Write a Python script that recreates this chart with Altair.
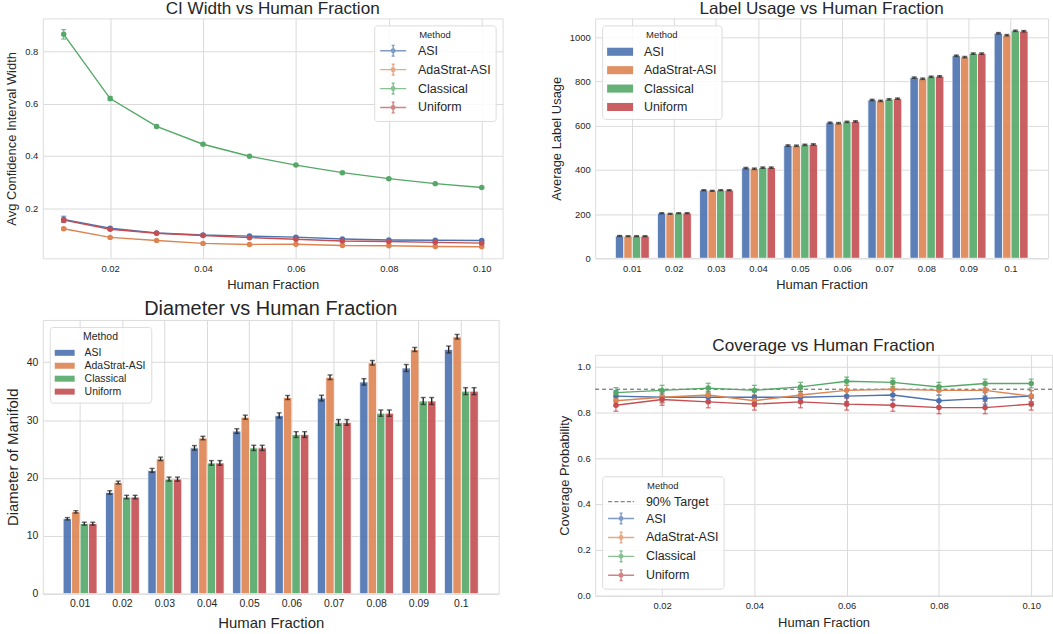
import altair as alt
import pandas as pd

# ---------------- data ----------------
fractions = [0.01, 0.02, 0.03, 0.04, 0.05, 0.06, 0.07, 0.08, 0.09, 0.10]
frac_labels = ["0.01", "0.02", "0.03", "0.04", "0.05", "0.06", "0.07", "0.08", "0.09", "0.1"]
methods = ["ASI", "AdaStrat-ASI", "Classical", "Uniform"]
colors = ["#4C72B0", "#DD8452", "#55A868", "#C44E52"]

# CI width
ci_asi = [0.157, 0.123, 0.105, 0.097, 0.093, 0.089, 0.082, 0.078, 0.077, 0.076]
ci_ada = [0.121, 0.088, 0.076, 0.065, 0.061, 0.062, 0.057, 0.056, 0.053, 0.052]
ci_cla = [0.866, 0.620, 0.513, 0.445, 0.399, 0.365, 0.336, 0.313, 0.294, 0.279]
ci_uni = [0.154, 0.119, 0.104, 0.095, 0.087, 0.081, 0.074, 0.072, 0.069, 0.066]
ci_err_asi = [0.012, 0.004, 0.003, 0.003, 0.003, 0.002, 0.002, 0.002, 0.002, 0.002]
ci_err_ada = [0.004, 0.003, 0.002, 0.002, 0.002, 0.002, 0.002, 0.002, 0.002, 0.002]
ci_err_cla = [0.018, 0.008, 0.005, 0.004, 0.004, 0.003, 0.003, 0.003, 0.003, 0.003]
ci_err_uni = [0.006, 0.004, 0.003, 0.003, 0.003, 0.002, 0.002, 0.002, 0.002, 0.002]

# Label usage
lu_asi = [101, 204, 308, 408, 510, 613, 716, 817, 916, 1018]
lu_ada = [100, 201, 305, 405, 509, 611, 712, 812, 910, 1009]
lu_cla = [100, 204, 308, 410, 513, 617, 719, 821, 926, 1029]
lu_uni = [100, 204, 308, 410, 515, 619, 722, 823, 926, 1027]
lu_err = [2, 2, 2, 3, 3, 3, 3, 3, 3, 3]

# Diameter
dm_asi = [12.95, 17.5, 21.3, 25.2, 28.1, 30.8, 33.8, 36.6, 39.0, 42.2]
dm_ada = [14.15, 19.2, 23.3, 26.9, 30.5, 33.9, 37.4, 39.9, 42.2, 44.4]
dm_cla = [12.1, 16.7, 19.8, 22.6, 25.2, 27.5, 29.6, 31.2, 33.3, 35.0]
dm_uni = [12.1, 16.7, 19.8, 22.6, 25.2, 27.5, 29.6, 31.2, 33.3, 35.0]
dm_err_asi = [0.2, 0.3, 0.35, 0.4, 0.4, 0.45, 0.5, 0.55, 0.6, 0.6]
dm_err_ada = [0.2, 0.25, 0.3, 0.3, 0.35, 0.35, 0.4, 0.4, 0.35, 0.4]
dm_err_cla = [0.25, 0.3, 0.35, 0.4, 0.45, 0.5, 0.5, 0.55, 0.6, 0.6]
dm_err_uni = [0.25, 0.3, 0.35, 0.4, 0.45, 0.5, 0.5, 0.55, 0.6, 0.6]

# Coverage
cv_asi = [0.870, 0.865, 0.865, 0.865, 0.865, 0.870, 0.875, 0.850, 0.860, 0.870]
cv_ada = [0.850, 0.865, 0.875, 0.850, 0.875, 0.895, 0.900, 0.895, 0.895, 0.870]
cv_cla = [0.885, 0.895, 0.905, 0.895, 0.910, 0.935, 0.930, 0.910, 0.925, 0.925]
cv_uni = [0.830, 0.855, 0.845, 0.835, 0.845, 0.835, 0.830, 0.820, 0.820, 0.835]
cv_err_asi = [0.024, 0.024, 0.024, 0.024, 0.024, 0.024, 0.023, 0.025, 0.025, 0.024]
cv_err_ada = [0.025, 0.024, 0.023, 0.025, 0.023, 0.022, 0.021, 0.022, 0.022, 0.024]
cv_err_cla = [0.022, 0.022, 0.021, 0.022, 0.020, 0.018, 0.018, 0.020, 0.019, 0.019]
cv_err_uni = [0.026, 0.025, 0.026, 0.026, 0.026, 0.026, 0.026, 0.027, 0.027, 0.026]
target_level = [0.9]


def long_frame(xs, vals, errs):
    rows = []
    for m, v, e in zip(methods, vals, errs):
        for x, vi, ei in zip(xs, v, e):
            rows.append({"Fraction": x, "Method": m, "Value": vi, "Lo": vi - ei, "Hi": vi + ei})
    return pd.DataFrame(rows)


ci_df = long_frame(fractions, [ci_asi, ci_ada, ci_cla, ci_uni],
                   [ci_err_asi, ci_err_ada, ci_err_cla, ci_err_uni])
lu_df = long_frame(frac_labels, [lu_asi, lu_ada, lu_cla, lu_uni], [lu_err] * 4)
dm_df = long_frame(frac_labels, [dm_asi, dm_ada, dm_cla, dm_uni],
                   [dm_err_asi, dm_err_ada, dm_err_cla, dm_err_uni])
cv_df = long_frame(fractions, [cv_asi, cv_ada, cv_cla, cv_uni],
                   [cv_err_asi, cv_err_ada, cv_err_cla, cv_err_uni])

FONT = "Liberation Sans"
TXT = "#262626"
GRID = "#dadada"
# legend symbol paths (nominal unit box [-1,1], drawn wider to the right)
ERRSYM = ("M-1,0H1.9M0.45,-0.6V0.6M0.28,-0.6H0.62M0.28,0.6H0.62"
          "M0.65,0A0.2,0.2 0 1,1 0.25,0A0.2,0.2 0 1,1 0.65,0")
DASHSYM = "M-1,0H-0.55M-0.3,0H0.15M0.4,0H0.85M1.1,0H1.55M1.75,0H1.9"
BARSYM = "M-1,-0.45H1.9V0.45H-1Z"
BARSYM_S = "M-1,-0.4H1.67V0.4H-1Z"


def axis(title, values, fmt, label_size, title_size, **kw):
    opts = dict(title=title, labelFontSize=label_size,
                titleFontSize=title_size, titleFontWeight="normal", labelFont=FONT,
                titleFont=FONT, labelColor=TXT, titleColor=TXT, grid=True,
                gridColor=GRID, domain=False, ticks=False, labelPadding=5,
                titlePadding=6)
    if values is not None:
        opts["values"] = values
    if fmt is not None:
        opts["format"] = fmt
    opts.update(kw)
    return alt.Axis(**opts)


def legend_props(orient, label_size, title_size, sym_size, row_pad, label_offset,
                 pad=5, title_pad=3):
    return dict(title="Method", orient=orient, offset=7, fillColor="rgba(255,255,255,0.85)",
                strokeColor="#dcdcdc", cornerRadius=3, padding=pad,
                titleFontSize=title_size, titleFontWeight="normal", titleColor=TXT,
                titleAnchor="middle", titleFont=FONT, labelFont=FONT, titlePadding=title_pad,
                labelFontSize=label_size, labelColor=TXT, symbolSize=sym_size,
                rowPadding=row_pad, labelOffset=label_offset)


def line_panel(df, title, title_size, ytitle, ydomain, yvalues, width, height,
               legend_orient, target=None):
    with_target = target is not None
    xs = alt.Scale(domain=[0.0055, 0.1045], nice=False, zero=False)
    ys = alt.Scale(domain=ydomain, nice=False, zero=False)
    xax = axis("Human Fraction", [0.02, 0.04, 0.06, 0.08, 0.10], ".2f", 9.5, 13)
    yax = axis(ytitle, yvalues, ".1f", 9.5, 13)
    entries = (["90% Target"] if with_target else []) + methods
    ecolors = (["#555555"] if with_target else []) + colors
    epaths = ([DASHSYM] if with_target else []) + [ERRSYM] * 4
    cscale = alt.Scale(domain=entries, range=ecolors)
    leg = alt.Legend(symbolStrokeWidth=1.4,
                     **legend_props(legend_orient, 12.5, 9.5, 324, -0.4, 19, 5, 1))
    color = alt.Color("Method:N", scale=cscale, legend=leg)
    x = alt.X("Fraction:Q", scale=xs, axis=xax)
    base = alt.Chart(df)
    layers = []
    leg_df = pd.DataFrame({"Method": entries})
    layers.append(alt.Chart(leg_df).mark_point(filled=False, strokeWidth=1.4).encode(
        color=color,
        shape=alt.Shape("Method:N", scale=alt.Scale(domain=entries, range=epaths), legend=leg),
    ).transform_filter(alt.datum.Method == "__none__"))
    if with_target:
        layers.append(alt.Chart(pd.DataFrame({"T": target})).mark_rule(
            color="#555555", strokeDash=[4, 3], strokeWidth=1.0).encode(
            y=alt.Y("T:Q", scale=ys, axis=yax)))
    layers.append(base.mark_line(strokeWidth=1.4).encode(
        x=x, y=alt.Y("Value:Q", scale=ys, axis=yax), color=color))
    layers.append(base.mark_rule(strokeWidth=1.2, opacity=0.8).encode(
        x=x, y=alt.Y("Lo:Q", scale=ys, axis=yax), y2="Hi:Q", color=color))
    for f in ["Lo", "Hi"]:
        layers.append(base.mark_tick(orient="horizontal", size=5, thickness=1.2, opacity=0.8).encode(
            x=x, y=alt.Y(f + ":Q", scale=ys, axis=yax), color=color))
    layers.append(base.mark_circle(size=30, opacity=1).encode(
        x=x, y=alt.Y("Value:Q", scale=ys, axis=yax), color=color))
    return alt.layer(*layers).properties(
        width=width, height=height,
        title=alt.TitleParams(title, fontSize=title_size, font=FONT, color=TXT,
                              fontWeight="normal", offset=1))


def bar_panel(df, title, title_size, ytitle, ydomain, yvalues, width, height,
              label_size, axis_title_size, leg_label, leg_title, sym_size, sym_path,
              row_pad, label_offset):
    ys = alt.Scale(domain=ydomain, nice=False, zero=False)
    yax = axis(ytitle, yvalues, "d", label_size, axis_title_size)
    xax = axis("Human Fraction", None, None, label_size, axis_title_size,
               labelAngle=0, bandPosition=0.5)
    x = alt.X("Fraction:N", sort=frac_labels,
              scale=alt.Scale(paddingInner=0.2, paddingOuter=0.48), axis=xax)
    xo = alt.XOffset("Method:N", sort=methods,
                     scale=alt.Scale(domain=methods, paddingInner=0, paddingOuter=0))
    base = alt.Chart(df)
    lp = legend_props("top-left", leg_label, leg_title, sym_size, row_pad, label_offset)
    bars = base.mark_bar(stroke="white", strokeWidth=0.8, opacity=0.9).encode(
        x=x, xOffset=xo, y=alt.Y("Value:Q", scale=ys, axis=yax),
        color=alt.Color("Method:N", scale=alt.Scale(domain=methods, range=colors),
                        legend=alt.Legend(symbolType=sym_path, symbolStrokeWidth=0, **lp)))
    err = base.mark_rule(color=TXT, strokeWidth=1.4).encode(
        x=x, xOffset=xo, y=alt.Y("Lo:Q", scale=ys, axis=yax), y2="Hi:Q")
    caps = [base.mark_tick(color=TXT, size=5, thickness=1.4, orient="horizontal").encode(
        x=x, xOffset=xo, y=alt.Y(f + ":Q", scale=ys, axis=yax)) for f in ["Lo", "Hi"]]
    return alt.layer(bars, err, *caps).properties(
        width=width, height=height,
        title=alt.TitleParams(title, fontSize=title_size, font=FONT, color=TXT,
                              fontWeight="normal", offset=1))


A = line_panel(ci_df, "CI Width vs Human Fraction", 17.2, "Avg Confidence Interval Width",
               [0.008, 0.927], [0.2, 0.4, 0.6, 0.8], 462, 241, "top-right")
B = bar_panel(lu_df, "Label Usage vs Human Fraction", 17.2, "Average Label Usage",
              [0, 1085], [0, 200, 400, 600, 800, 1000], 455, 241, 9.5, 13, 12.5, 9.5,
              324, BARSYM, 2.5, 19)
C = bar_panel(dm_df, "Diameter vs Human Fraction", 20, "Diameter of Manifold",
              [0, 47.3], [0, 10, 20, 30, 40], 458, 275, 10.5, 15, 10.5, 10.5,
              225, BARSYM_S, 0, 15)
D = line_panel(cv_df, "Coverage vs Human Fraction", 17.2, "Coverage Probability",
               [0, 1.05], [0.0, 0.2, 0.4, 0.6, 0.8, 1.0], 459, 242, "bottom-left",
               target=target_level)

RES = dict(color="independent", shape="independent")
left = alt.vconcat(A, C, spacing=6).resolve_scale(**RES).resolve_legend(**RES)
right = alt.vconcat(B, D, spacing=44).resolve_scale(**RES).resolve_legend(**RES)

chart = alt.hconcat(left, right, spacing=46).resolve_scale(**RES).resolve_legend(
    **RES
).properties(
    padding={"left": 4, "top": -2, "right": 0, "bottom": 0}
).configure_view(
    stroke="#cccccc", strokeWidth=1.25
).configure(background="white")

chart.save("out.html", embed_options={"renderer": "svg", "actions": False})
